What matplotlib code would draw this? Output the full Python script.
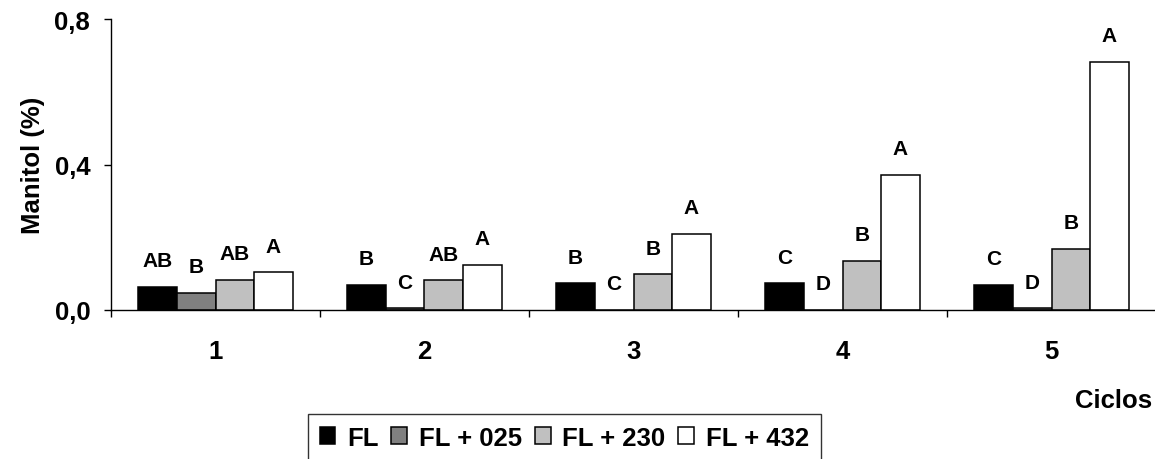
import matplotlib
matplotlib.use("Agg")
import matplotlib.pyplot as plt
import numpy as np

plt.rcParams['font.family'] = ['Liberation Sans', 'DejaVu Sans']
plt.rcParams['font.weight'] = 'bold'

# Manitol content per cycle for each treatment
ciclos = ["1", "2", "3", "4", "5"]
series_names = ["FL", "FL + 025", "FL + 230", "FL + 432"]
fl = [0.064, 0.069, 0.073, 0.073, 0.069]
fl_025 = [0.047, 0.005, 0.0, 0.0, 0.005]
fl_230 = [0.083, 0.082, 0.098, 0.136, 0.168]
fl_432 = [0.104, 0.125, 0.209, 0.372, 0.682]

# Significance letters above each bar
letters_fl = ["AB", "B", "B", "C", "C"]
letters_025 = ["B", "C", "C", "D", "D"]
letters_230 = ["AB", "AB", "B", "B", "B"]
letters_432 = ["A", "A", "A", "A", "A"]

yticks = [0.0, 0.4, 0.8]
ytick_labels = ["0,0", "0,4", "0,8"]

values = [fl, fl_025, fl_230, fl_432]
letters = [letters_fl, letters_025, letters_230, letters_432]
colors = ["#000000", "#808080", "#C0C0C0", "#FFFFFF"]

fig = plt.figure(figsize=(11.55, 4.6), dpi=100)
ax = fig.add_axes([111 / 1155, 149 / 460, 1045 / 1155, 291 / 460])

x = np.arange(1, len(ciclos) + 1)
w = 0.185
offsets = [-1.5 * w, -0.5 * w, 0.5 * w, 1.5 * w]

handles = []
for vals, lets, col, off, name in zip(values, letters, colors, offsets, series_names):
    bars = ax.bar(x + off, vals, width=w, color=col, edgecolor="black",
                  linewidth=1.1, label=name, zorder=2)
    handles.append(bars)
    for xi, v, t in zip(x + off, vals, lets):
        ax.annotate(t, xy=(xi, v), xytext=(0, 12), textcoords="offset points",
                    ha="center", va="bottom", fontsize=15, fontweight="bold")

ax.set_xlim(0.5, 5.5)
ax.set_ylim(0, 0.8)

for s in ["top", "right"]:
    ax.spines[s].set_visible(False)
for s in ["left", "bottom"]:
    ax.spines[s].set_linewidth(1.0)

ax.set_yticks(yticks)
ax.set_yticklabels(ytick_labels, fontsize=18.5, fontweight="bold")
ax.tick_params(axis="y", direction="out", length=5, width=1, pad=10)

ax.set_xticks(x)
ax.set_xticklabels(ciclos, fontsize=18.5, fontweight="bold")
ax.tick_params(axis="x", which="major", length=0, pad=21)
ax.set_xticks(np.arange(0.5, 5.6, 1.0), minor=True)
ax.tick_params(axis="x", which="minor", direction="out", length=5, width=1)

ax.set_ylabel("Manitol (%)", fontsize=18.5, fontweight="bold", labelpad=7)
ax.set_xlabel("Ciclos", fontsize=18.5, fontweight="bold")
ax.xaxis.set_label_coords(0.996, -0.268)
ax.xaxis.label.set_ha("right")

leg = fig.legend(handles=handles, labels=series_names, loc="upper left",
                 bbox_to_anchor=(308 / 1155, 1 - 415 / 460), ncol=4,
                 frameon=True, fancybox=False, edgecolor="black",
                 prop={"size": 18.5, "weight": "bold"},
                 handlelength=0.62, handleheight=0.62, handletextpad=0.45,
                 columnspacing=0.5, borderpad=0.45, borderaxespad=0)
leg.get_frame().set_linewidth(1.0)

fig.savefig("out.png", dpi=100)
